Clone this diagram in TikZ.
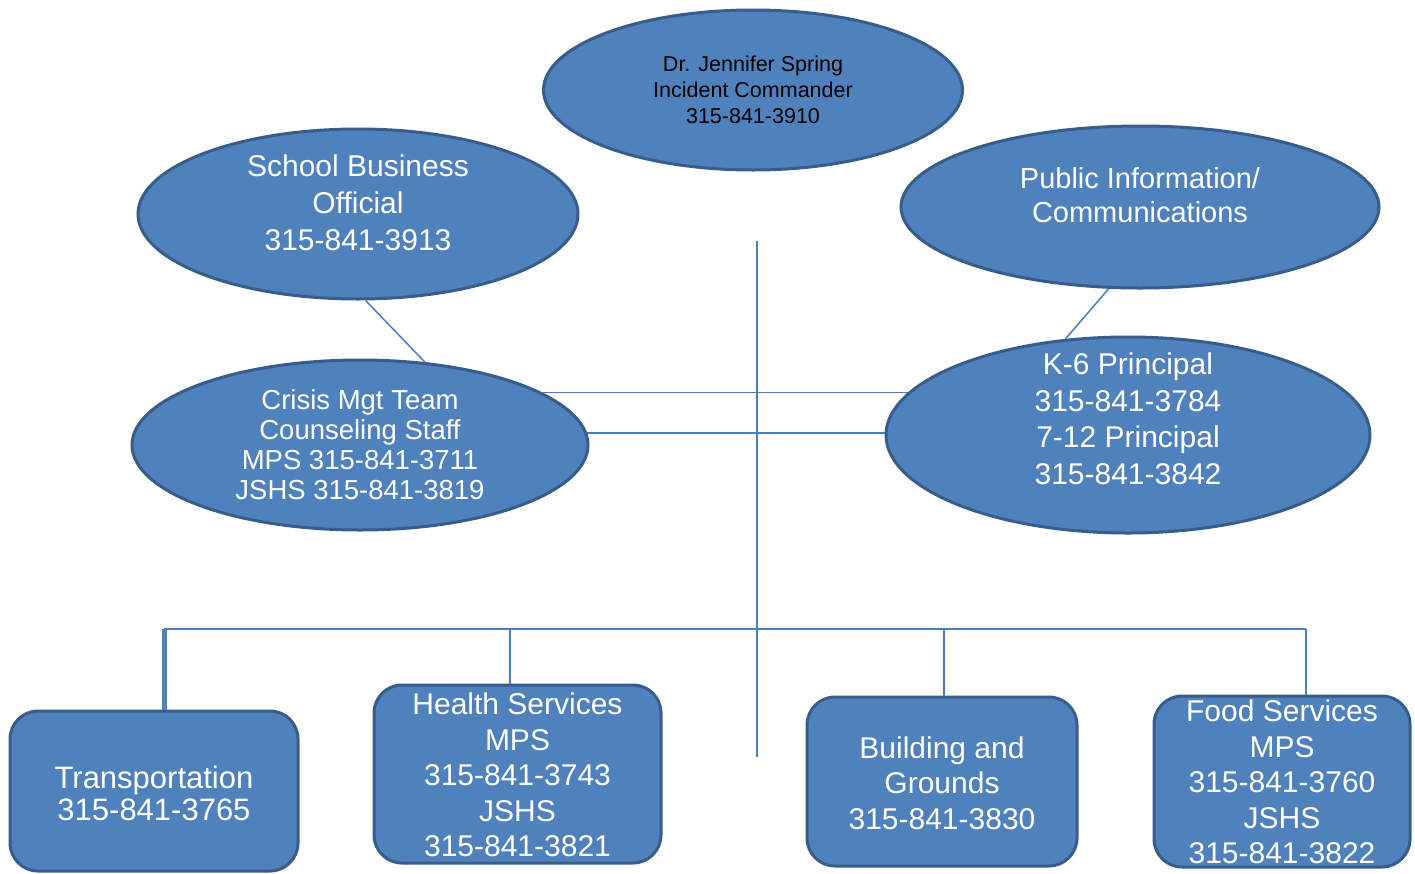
\documentclass[tikz,border=0pt]{standalone}
\usepackage{fontspec}
\setmainfont{Liberation Sans}
\usetikzlibrary{shapes.geometric}
\definecolor{fillblue}{HTML}{4F81BD}
\definecolor{edgeblue}{HTML}{385D8A}
\definecolor{lineblue}{HTML}{4A7EBB}
\begin{document}
\begin{tikzpicture}[x=1pt,y=-1pt,
 oval/.style={ellipse, draw=edgeblue, fill=fillblue, line width=3pt, inner sep=0pt},
 rbox/.style={rectangle, rounded corners=28pt, draw=edgeblue, fill=fillblue, line width=3pt, inner sep=0pt},
 wtxt/.style={text=white, align=center, inner sep=0pt},
 btxt/.style={text=black, align=center, inner sep=0pt},
 conn/.style={draw=lineblue, line width=1.5pt},
 thickconn/.style={draw=fillblue, line width=5pt}]
\useasboundingbox (0,0) rectangle (1415,873);

% ellipses
\node[oval, minimum width=419pt, minimum height=160pt] (ic) at (753,90) {};
\node[btxt, font=\fontsize{21.5}{26}\selectfont] (ict) at (753,90) {Dr. Jennifer Spring\\Incident Commander\\315-841-3910};

\node[oval, minimum width=440pt, minimum height=170pt] (sbo) at (358,214) {};
\node[wtxt, font=\fontsize{30}{37}\selectfont] (sbot) at (358,203) {School Business\\Official\\315-841-3913};

\node[oval, minimum width=478pt, minimum height=162pt] (pi) at (1140,207) {};
\node[wtxt, font=\fontsize{29}{34}\selectfont] (pit) at (1140,195) {Public Information/\\Communications};

\node[oval, minimum width=456pt, minimum height=170pt] (cm) at (360,445) {};
\node[wtxt, font=\fontsize{27.5}{30}\selectfont] (cmt) at (360,445) {Crisis Mgt Team\\Counseling Staff\\MPS 315-841-3711\\JSHS 315-841-3819};

\node[oval, minimum width=484pt, minimum height=196pt] (kp) at (1128,435) {};
\node[wtxt, font=\fontsize{30}{36.5}\selectfont] (kpt) at (1128,419) {K-6 Principal\\315-841-3784\\7-12 Principal\\315-841-3842};

% boxes
\node[rbox, minimum width=288pt, minimum height=160pt] (tr) at (154,791) {};
\node[wtxt, font=\fontsize{31}{32}\selectfont] (trt) at (154,793) {Transportation\\315-841-3765};

\node[rbox, minimum width=287pt, minimum height=178pt] (hs) at (517.5,774) {};
\node[wtxt, font=\fontsize{30}{35.5}\selectfont] (hst) at (517.5,775) {Health Services\\MPS\\315-841-3743\\JSHS\\315-841-3821};

\node[rbox, minimum width=270pt, minimum height=169pt] (bg) at (942,781.5) {};
\node[wtxt, font=\fontsize{30}{35.5}\selectfont] (bgt) at (942,783) {Building and\\Grounds\\315-841-3830};

\node[rbox, minimum width=256pt, minimum height=171pt] (fs) at (1282,781.5) {};
\node[wtxt, font=\fontsize{30}{35.5}\selectfont] (fst) at (1282,782) {Food Services\\MPS\\315-841-3760\\JSHS\\315-841-3822};

% connectors
\coordinate (vtop) at (757,241);
\coordinate (vbot) at (757,757);
\draw[conn] (vtop) -- (vbot);

\draw[conn] (cm.16.08) -- (cm.16.08 -| kp.169.12);
\draw[conn] (cm.3.3) -- (cm.3.3 -| kp.west);

\draw[conn] (sbo.-85.3) -- (cm.52.4);
\draw[conn] (pi.-111) -- (kp.123.2);

\coordinate (b1) at (164,629);
\coordinate (b2) at (510,629);
\coordinate (b3) at (944,629);
\coordinate (b4) at (1306,629);
\draw[conn] (b1) -- (b4);
\draw[thickconn] (b1) -- (b1 |- tr.north);
\draw[conn] (b2) -- (b2 |- hs.north);
\draw[conn] (b3) -- (b3 |- bg.north);
\draw[conn] (b4) -- (b4 |- fs.north);
\end{tikzpicture}
\end{document}
